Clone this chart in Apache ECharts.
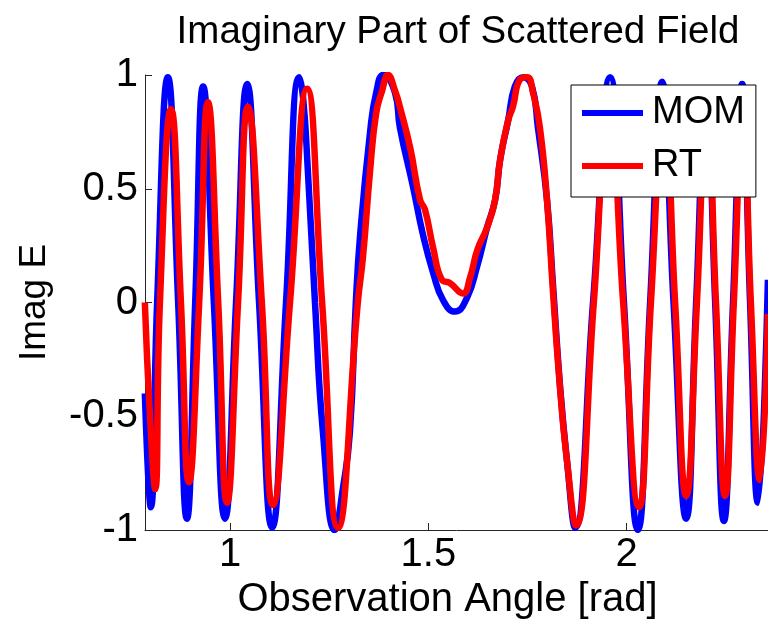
<!DOCTYPE html>
<html>
<head>
<meta charset="utf-8">
<script src="https://cdn.jsdelivr.net/npm/echarts@6/dist/echarts.min.js"></script>
<style>
html,body{margin:0;padding:0;background:#fff;}
#chart{width:768px;height:623px;}
</style>
</head>
<body>
<div id="chart"></div>
<script>
// Observation angle (rad) and imaginary part values
var momAngle = [0.785,0.800,0.816,0.843,0.869,0.891,0.912,0.932,0.959,0.987,1.015,1.043,1.073,1.106,1.141,1.174,1.184,1.196,1.214,1.234,1.264,1.285,1.302,1.317,1.328,1.353,1.368,1.386,1.416,1.428,1.461,1.486,1.512,1.537,1.567,1.597,1.623,1.648,1.668,1.681,1.701,1.718,1.739,1.761,1.776,1.799,1.814,1.832,1.849,1.870,1.915,1.958,1.993,2.028,2.059,2.089,2.118,2.150,2.175,2.200,2.223,2.245,2.268,2.291,2.311,2.331,2.356];
var momImag  = [-0.40,-0.90,0,0.99,0,-0.95,0,0.95,0,-0.95,0,0.96,0,-0.99,0,0.99,0.90,0.58,0,-0.57,-1.0,-0.81,-0.57,0,0.30,0.75,0.92,1.0,0.92,0.77,0.51,0.30,0.13,0.01,-0.04,0.02,0.16,0.33,0.45,0.63,0.80,0.95,0.99,0.95,0.77,0.45,0.08,-0.37,-0.69,-0.99,0,0.99,0,-1.0,0,0.97,0,-0.95,0,0.93,0,-0.96,0,0.96,0,-0.88,0.10];

var rtAngle = [0.785,0.798,0.811,0.823,0.851,0.876,0.896,0.922,0.944,0.970,0.992,1.020,1.045,1.080,1.108,1.151,1.194,1.232,1.272,1.322,1.335,1.353,1.368,1.383,1.398,1.416,1.428,1.454,1.479,1.491,1.512,1.534,1.554,1.587,1.605,1.623,1.648,1.668,1.681,1.701,1.713,1.731,1.749,1.764,1.781,1.799,1.814,1.832,1.849,1.872,1.917,1.955,1.991,2.031,2.061,2.094,2.122,2.150,2.177,2.202,2.225,2.248,2.270,2.293,2.313,2.336,2.356];
var rtImag  = [0.0,-0.5,-0.82,0,0.85,0,-0.79,0,0.88,0,-0.88,0,0.86,0,-0.89,0,0.94,0,-0.99,0,0.2,0.58,0.83,0.93,1.0,0.93,0.86,0.68,0.45,0.41,0.24,0.10,0.086,0.04,0.11,0.23,0.33,0.45,0.63,0.80,0.86,0.98,0.99,0.92,0.77,0.45,0.05,-0.38,-0.69,-0.98,0,0.93,0,-0.90,0,0.88,0,-0.85,0,0.88,0,-0.85,0,0.85,0,-0.78,-0.05];

var xTickValues = [1, 1.5, 2];
var yTickValues = [-1, -0.5, 0, 0.5, 1];
var seriesNames = ['MOM', 'RT'];

function zip(a, b) { return a.map(function (v, i) { return [v, b[i]]; }); }

var FONT = 'Liberation Sans';
var chart = echarts.init(document.getElementById('chart'), null, {renderer: 'canvas'});
chart.setOption({
  animation: false,
  backgroundColor: '#fff',
  title: {
    text: 'Imaginary Part of Scattered Field',
    left: 453, top: 8, textAlign: 'center',
    textStyle: {fontFamily: FONT, fontSize: 38.5, fontWeight: 'normal', color: '#000'}
  },
  grid: {left: 145, right: 0, top: 75, bottom: 93, containLabel: false, outerBoundsMode: 'none'},
  legend: {
    orient: 'vertical',
    left: 571, top: 85,
    padding: [8, 11, 11, 11],
    itemGap: 13,
    itemWidth: 61, itemHeight: 6,
    icon: 'rect',
    backgroundColor: '#fff',
    borderColor: '#000', borderWidth: 1,
    textStyle: {fontFamily: FONT, fontSize: 38, color: '#000', lineHeight: 40, padding: [0, 0, 0, 4]},
    data: seriesNames
  },
  xAxis: {
    type: 'value',
    min: Math.PI / 4, max: 3 * Math.PI / 4,
    name: 'Observation Angle [rad]',
    nameLocation: 'middle', nameGap: 41,
    nameTextStyle: {fontFamily: FONT, fontSize: 40, color: '#000', padding: [0, 18, 0, 0]},
    axisLine: {show: true, onZero: false, lineStyle: {color: '#262626', width: 1}},
    axisTick: {show: true, inside: true, length: 7, customValues: xTickValues, lineStyle: {color: '#262626'}},
    axisLabel: {customValues: xTickValues, fontFamily: FONT, fontSize: 40, color: '#000', margin: 5,
      formatter: function (v) { return String(v); }},
    splitLine: {show: false}
  },
  yAxis: {
    type: 'value',
    min: -1, max: 1, interval: 0.5,
    name: 'Imag E',
    nameLocation: 'middle', nameGap: 92,
    nameTextStyle: {fontFamily: FONT, fontSize: 37, color: '#000'},
    axisLine: {show: true, onZero: false, lineStyle: {color: '#262626', width: 1}},
    axisTick: {show: true, inside: true, length: 7, lineStyle: {color: '#262626'}},
    axisLabel: {fontFamily: FONT, fontSize: 40, color: '#000', margin: 7,
      formatter: function (v) { return String(v); }},
    splitLine: {show: false}
  },
  series: [
    {name: seriesNames[0], type: 'line', data: zip(momAngle, momImag), showSymbol: false, smooth: 0.5,
      lineStyle: {color: '#0000ff', width: 6.5}, itemStyle: {color: '#0000ff'}, z: 2},
    {name: seriesNames[1], type: 'line', data: zip(rtAngle, rtImag), showSymbol: false, smooth: 0.5,
      lineStyle: {color: '#ff0000', width: 6.5}, itemStyle: {color: '#ff0000'}, z: 3}
  ]
});
</script>
</body>
</html>
